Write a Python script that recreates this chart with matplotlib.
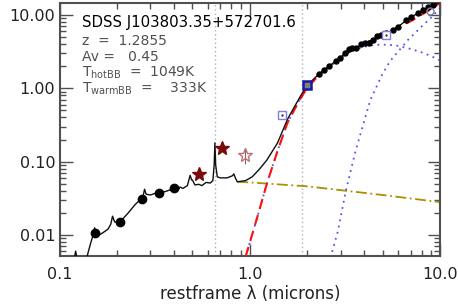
import matplotlib
matplotlib.use("Agg")
import matplotlib.pyplot as plt
from matplotlib.ticker import FixedLocator, FixedFormatter, LogLocator, NullFormatter

# ---------------- data ----------------
# total model / observed spectrum (black solid)
tot_lam = [0.112, 0.118, 0.1216, 0.125, 0.131, 0.138, 0.142, 0.146, 0.150, 0.153, 0.156, 0.162,
           0.170, 0.180, 0.186, 0.190, 0.195, 0.205, 0.215, 0.230, 0.250, 0.265, 0.275,
           0.280, 0.285, 0.300, 0.320, 0.340, 0.360, 0.380, 0.400, 0.420, 0.430, 0.445,
           0.470, 0.486, 0.495, 0.500, 0.515, 0.540, 0.560, 0.590, 0.620, 0.640, 0.650,
           0.656, 0.662, 0.675, 0.700, 0.760, 0.810, 0.825, 0.840, 0.860,
           0.95, 1.03, 1.12, 1.23, 1.40, 1.58, 1.83, 1.99, 2.31, 2.60, 2.97, 3.31,
           3.60, 4.05, 4.44, 4.92, 5.66, 6.02, 6.66, 7.07, 7.66, 8.15, 8.67, 9.20, 10.0]
tot_flux = [0.0035, 0.0040, 0.0060, 0.0040, 0.0035, 0.0045, 0.0060, 0.0078, 0.0098, 0.0125, 0.0105, 0.0100,
            0.0108, 0.0120, 0.0140, 0.0180, 0.0150, 0.0150, 0.0165, 0.0200, 0.0260, 0.0300, 0.0340,
            0.0420, 0.0360, 0.0350, 0.0370, 0.0380, 0.0390, 0.0410, 0.0420, 0.0410, 0.0450, 0.0430,
            0.0470, 0.0650, 0.0560, 0.0560, 0.0480, 0.0490, 0.0470, 0.0520, 0.0510, 0.0550, 0.0900,
            0.1800, 0.0900, 0.0620, 0.0600, 0.0600, 0.0640, 0.0680, 0.0600, 0.0530,
            0.055, 0.062, 0.078, 0.105, 0.180, 0.38, 0.75, 1.08, 1.57, 2.00, 2.57, 3.40,
            3.55, 4.20, 4.60, 5.30, 6.20, 6.90, 8.50, 9.50, 10.5, 11.7, 12.7, 13.7, 14.8]

# hot + warm dust (red dashed)
dust_lam = [0.95, 1.05, 1.15, 1.23, 1.40, 1.58, 1.83, 2.0, 2.3, 2.6, 3.0, 3.3, 3.6, 4.0,
            4.5, 5.0, 5.5, 6.0, 7.0, 8.0, 9.0, 10.0]
dust_flux = [0.0050, 0.012, 0.027, 0.050, 0.140, 0.34, 0.70, 1.0, 1.5, 1.95, 2.55, 3.1, 3.5, 4.1,
             4.6, 5.3, 6.0, 6.8, 8.2, 10.1, 12.1, 14.6]

# hot blackbody, 1049 K (blue dotted)
hot_lam = [0.95, 1.05, 1.15, 1.23, 1.40, 1.58, 1.83, 2.0, 2.3, 2.6, 3.0, 3.3, 3.6, 4.0,
           4.5, 5.0, 5.5, 6.0, 7.0, 8.0, 9.0, 10.0]
hot_flux = [0.0050, 0.012, 0.027, 0.050, 0.140, 0.34, 0.70, 1.0, 1.5, 1.95, 2.55, 3.05, 3.4, 3.7,
            3.9, 3.95, 3.9, 3.8, 3.45, 3.1, 2.75, 2.4]

# warm blackbody, 333 K (blue dotted)
warm_lam = [2.6, 2.9, 3.2, 3.6, 4.0, 4.3, 5.0, 5.5, 6.1, 6.8, 7.5, 8.2, 8.9, 9.5, 10.0]
warm_flux = [0.0040, 0.011, 0.040, 0.140, 0.36, 0.69, 1.6, 2.4, 3.3, 4.6, 5.9, 7.4, 9.0, 10.8, 12.3]

# accretion-disk power law (olive dash-dot)
pl_lam = [0.86, 1.0, 2.0, 3.2, 5.0, 10.0]
pl_flux = [0.053, 0.052, 0.046, 0.040, 0.035, 0.028]

# photometry
phot_lam = [0.153, 0.208, 0.271, 0.333, 0.398]
phot_flux = [0.0106, 0.0150, 0.031, 0.037, 0.043]

irs_lam = [2.31, 2.45, 2.60, 2.84, 2.97, 3.15, 3.31, 3.46, 3.60, 3.83, 4.05, 4.23, 4.44,
           4.69, 4.92, 5.22, 5.66, 6.02, 6.66, 7.07, 7.66, 8.15, 8.67, 9.20]
irs_flux = [1.57, 1.78, 2.0, 2.37, 2.57, 3.0, 3.4, 3.56, 3.5, 3.98, 4.2, 4.2, 4.56,
            5.1, 5.3, 5.6, 6.2, 6.9, 8.5, 9.5, 10.5, 11.7, 12.7, 13.7]

star_lam = [0.541, 0.718]
star_flux = [0.068, 0.152]
ostar_lam = [0.94]
ostar_flux = [0.123]
ostar_err = [0.03]

sq_lam = [2.01]
sq_flux = [1.11]
osq_lam = [1.48, 5.22]
osq_flux = [0.43, 5.3]
ocirc_lam = [8.9]
ocirc_flux = [11.2]

vlines = [0.6563, 1.875]

xticks = [0.1, 1.0, 10.0]
xticklabels = ["0.1", "1.0", "10.0"]
yticks = [0.01, 0.1, 1.0, 10.0]
yticklabels = ["0.01", "0.10", "1.00", "10.00"]

info_title = "SDSS J103803.35+572701.6"
info_lines = ["z  =  1.2855", "Av =   0.45", r"T$_{\rm hotBB}$  =  1049K", r"T$_{\rm warmBB}$  =    333K"]

# ---------------- plot ----------------
plt.rcParams['font.family'] = ['DejaVu Sans']
plt.rcParams['mathtext.fontset'] = 'dejavusans'

fig = plt.figure(figsize=(4.58, 3.05), dpi=100)
ax = fig.add_axes([59.5 / 458, 1 - 256 / 305, 380.5 / 458, 253 / 305])
ax.set_xscale('log')
ax.set_yscale('log')
ax.set_xlim(0.1, 10.0)
ax.set_ylim(0.00515, 14.6)

for v in vlines:
    ax.axvline(v, color='#b0b0b0', ls=(0, (1, 2)), lw=1.0, zorder=1)

ax.plot(pl_lam, pl_flux, color='#a89000', ls=(0, (6, 2, 1, 2)), lw=1.3, zorder=2)
ax.plot(hot_lam, hot_flux, color='#5555ee', ls=(0, (1, 2.5)), lw=1.3, zorder=2)
ax.plot(warm_lam, warm_flux, color='#5555ee', ls=(0, (1, 2.5)), lw=1.3, zorder=2)
ax.plot(dust_lam, dust_flux, color='#ff1010', ls=(0, (5, 3)), lw=1.5, zorder=3)
ax.plot(tot_lam, tot_flux, color='#101010', lw=1.0, zorder=4)

ax.plot(phot_lam, phot_flux, 'o', color='black', ms=6, zorder=5)
ax.plot(irs_lam, irs_flux, 'o', color='black', ms=3.6, zorder=5)
ax.plot(star_lam, star_flux, '*', color='#7a0a0a', ms=10, zorder=5)
ax.errorbar(ostar_lam, ostar_flux, yerr=ostar_err, fmt='*', mfc='none', mec='#c07070',
            ecolor='#707070', elinewidth=0.8, ms=10, zorder=5)
ax.plot(sq_lam, sq_flux, 's', mfc='#808080', mec='#1818a0', mew=1.8, ms=6, zorder=6)
ax.plot(osq_lam, osq_flux, 's', mfc='white', mec='#8080e0', mew=1, ms=6, zorder=6)
ax.plot(osq_lam, osq_flux, '.', color='#404040', ms=1.5, zorder=7)
ax.plot(ocirc_lam, ocirc_flux, 'o', mfc='none', mec='#8080a0', mew=1, ms=5, zorder=6)

ax.xaxis.set_major_locator(FixedLocator(xticks))
ax.xaxis.set_major_formatter(FixedFormatter(xticklabels))
ax.yaxis.set_major_locator(FixedLocator(yticks))
ax.yaxis.set_major_formatter(FixedFormatter(yticklabels))
ax.xaxis.set_minor_locator(LogLocator(base=10, subs=range(2, 10)))
ax.yaxis.set_minor_locator(LogLocator(base=10, subs=range(2, 10)))
ax.xaxis.set_minor_formatter(NullFormatter())
ax.yaxis.set_minor_formatter(NullFormatter())
ax.tick_params(which='both', direction='in', top=True, right=True, color='#505050', width=1.0)
ax.tick_params(which='major', length=9, labelsize=11.5, labelcolor='#222222', pad=8)
ax.tick_params(which='minor', length=4.5)
ax.tick_params(axis='y', which='major', pad=3)
for s in ax.spines.values():
    s.set_color('#505050')
    s.set_linewidth(1.5)

ax.set_xlabel("restframe λ (microns)", fontsize=12, color='#222222', labelpad=2)

ax.text(82, 305 - 23, info_title, transform=None, fontsize=10.8, color='black', va='center', ha='left')
ys = [41, 57, 73, 89]
for t, y in zip(info_lines, ys):
    ax.text(82, 305 - y, t, transform=None, fontsize=10, color='#505050', va='center', ha='left')

fig.savefig("out.png", dpi=100)
